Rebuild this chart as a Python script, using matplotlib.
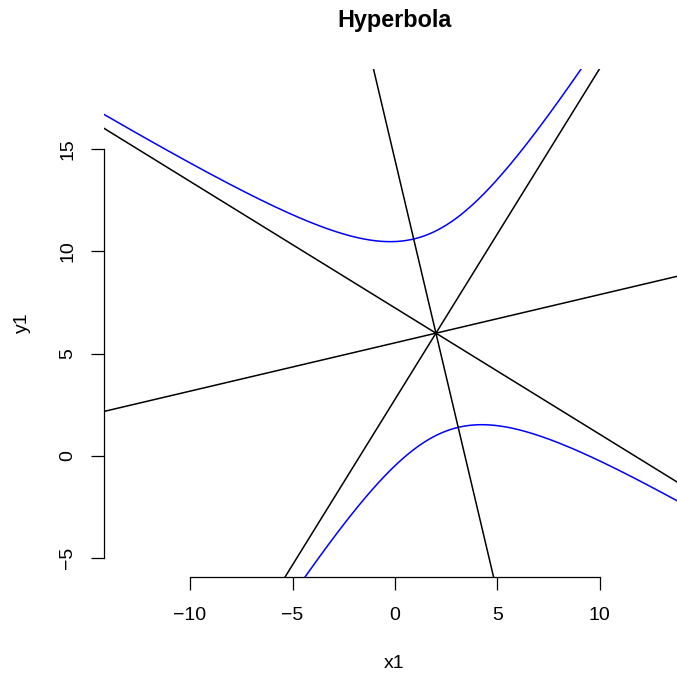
import numpy as np
import matplotlib
matplotlib.use("Agg")
import matplotlib.pyplot as plt

# Conic: A x^2 + B xy + C y^2 + D x + E y + F = 0
conic_coefs = [1.0, 1.0, -1.0, -10.0, 10.0, 5.0]
x_ticks = [-10, -5, 0, 5, 10]
y_ticks = [-5, 0, 5, 10, 15]
x_range = [-14.20, 13.75]
y_range = [-5.93, 18.91]
title_text = "Hyperbola"
xlabel_text = "x1"
ylabel_text = "y1"

plt.rcParams['font.family'] = ['Liberation Sans', 'DejaVu Sans']

A, B, C, D, E, F = conic_coefs
# centre of the conic
cx, cy = np.linalg.solve(np.array([[2 * A, B], [B, 2 * C]]), [-D, -E])
# asymptote slopes: A + B m + C m^2 = 0
asym_slopes = np.real(np.roots([C, B, A]))
# principal axes
w, V = np.linalg.eigh(np.array([[A, B / 2], [B / 2, C]]))
axis_slopes = V[1] / V[0]

# the two branches, y as function of x
xs = np.linspace(x_range[0] - 2, x_range[1] + 2, 3000)
qa = C
qb = B * xs + E
qc = A * xs ** 2 + D * xs + F
disc = np.sqrt(qb ** 2 - 4 * qa * qc)
yb1 = (-qb + disc) / (2 * qa)
yb2 = (-qb - disc) / (2 * qa)

W, H = 677, 675
fig = plt.figure(figsize=(W / 100, H / 100), dpi=100)
left, right, bottom, top = 104, 676.7, 577.3, 69
ax = fig.add_axes([left / W, 1 - bottom / H, (right - left) / W, (bottom - top) / H])

lw = 1.1
ax.plot(xs, yb1, color='blue', lw=lw)
ax.plot(xs, yb2, color='blue', lw=lw)
for m in asym_slopes:
    ax.axline((cx, cy), slope=m, color='black', lw=lw)
for m in axis_slopes:
    ax.axline((cx, cy), slope=m, color='black', lw=lw)

ax.set_xlim(x_range)
ax.set_ylim(y_range)
ax.set_xticks(x_ticks)
ax.set_yticks(y_ticks)
ax.spines['top'].set_visible(False)
ax.spines['right'].set_visible(False)
ax.spines['left'].set_bounds(min(y_ticks), max(y_ticks))
ax.spines['bottom'].set_bounds(min(x_ticks), max(x_ticks))
for s in ('left', 'bottom'):
    ax.spines[s].set_linewidth(0.9)
ax.tick_params(direction='out', length=9.1, width=0.9, labelsize=14, pad=12)
ax.tick_params(axis='y', labelrotation=90, pad=11)
for lab in ax.get_yticklabels():
    lab.set_va('center')

fig.text(395 / W, 1 - 21 / H, title_text, ha='center', va='center',
         fontsize=16.8, fontweight='bold')
fig.text(394 / W, 1 - 663 / H, xlabel_text, ha='center', va='center', fontsize=14)
fig.text(22 / W, 1 - 323 / H, ylabel_text, ha='center', va='center', fontsize=14,
         rotation=90)

fig.savefig('out.png', dpi=100)
